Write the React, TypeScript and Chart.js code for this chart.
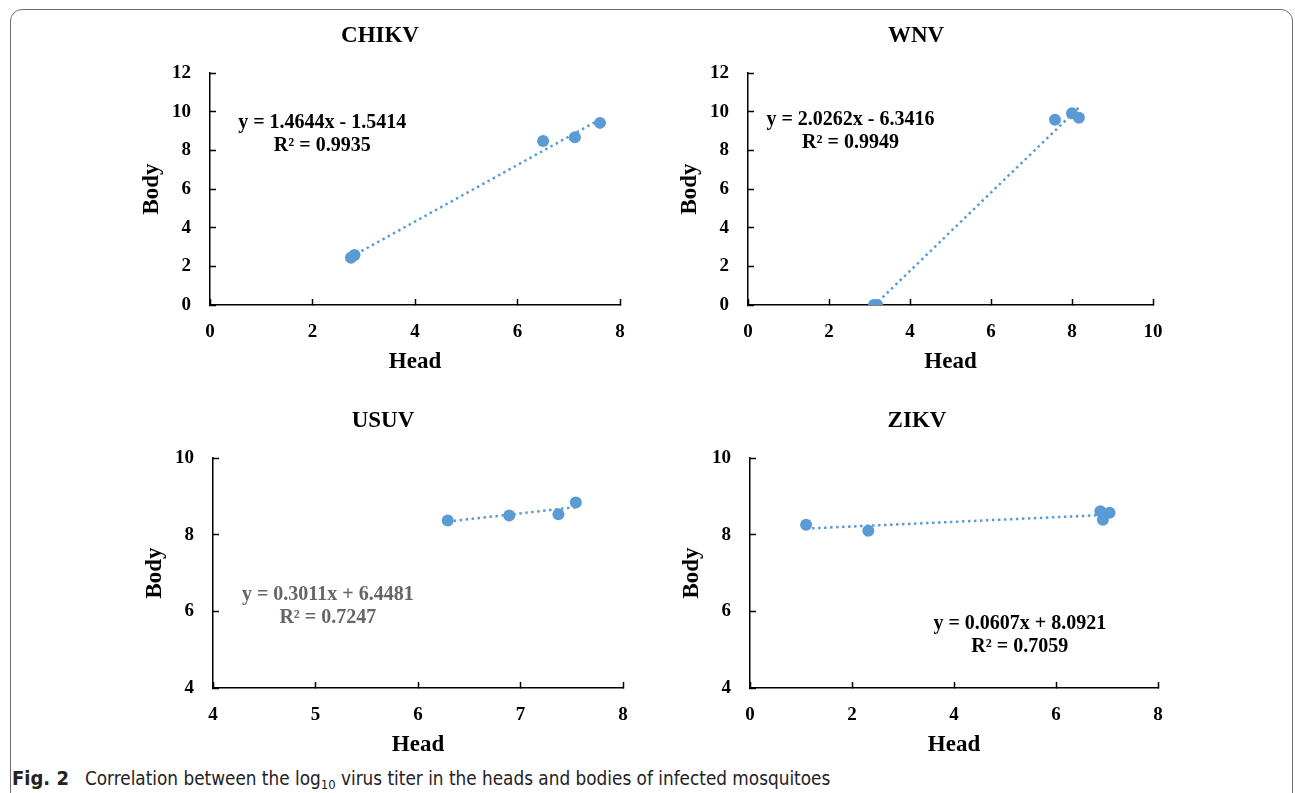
import React, { useEffect, useRef } from "react";
import { Chart, registerables } from "chart.js";

Chart.register(...registerables);

// ---- Data (log10 titers) ----
const chikvHead = [2.75, 2.82, 6.5, 7.12, 7.61];
const chikvBody = [2.45, 2.59, 8.48, 8.68, 9.42];
const chikvFit = [1.4644, -1.5414];
const chikvR2 = 0.9935;

const wnvHead = [3.11, 3.19, 7.58, 8.0, 8.17];
const wnvBody = [0, 0, 9.58, 9.92, 9.68];
const wnvFit = [2.0262, -6.3416];
const wnvR2 = 0.9949;

const usuvHead = [6.29, 6.89, 7.37, 7.54];
const usuvBody = [8.37, 8.5, 8.53, 8.84];
const usuvFit = [0.3011, 6.4481];
const usuvR2 = 0.7247;

const zikvHead = [1.1, 2.32, 6.87, 6.92, 7.05];
const zikvBody = [8.26, 8.1, 8.61, 8.39, 8.57];
const zikvFit = [0.0607, 8.0921];
const zikvR2 = 0.7059;

const xTitle = "Head";
const yTitle = "Body";

const BLUE = "#5B9BD5";
const SERIF = "'Liberation Serif', 'Times New Roman', serif";

type PanelSpec = {
  name: string;
  head: number[];
  body: number[];
  fit: number[];
  r2: number;
  area: { l: number; t: number; r: number; b: number };
  xRange: [number, number, number];
  yRange: [number, number, number];
  eqAt: [number, number];
  eqColor: string;
  rightPad: number;
};

const fmt = (v: number) => v.toFixed(4);
const eqText = (fit: number[]) =>
  `y = ${fmt(fit[0])}x ${fit[1] < 0 ? "-" : "+"} ${fmt(Math.abs(fit[1]))}`;

const panels: PanelSpec[] = [
  {
    name: "CHIKV", head: chikvHead, body: chikvBody, fit: chikvFit, r2: chikvR2,
    area: { l: 210, t: 73, r: 620, b: 305 }, xRange: [0, 8, 2], yRange: [0, 12, 2],
    eqAt: [2.19, 9.42], eqColor: "#000", rightPad: 10,
  },
  {
    name: "WNV", head: wnvHead, body: wnvBody, fit: wnvFit, r2: wnvR2,
    area: { l: 748, t: 73, r: 1153, b: 305 }, xRange: [0, 10, 2], yRange: [0, 12, 2],
    eqAt: [2.53, 9.57], eqColor: "#000", rightPad: 11,
  },
  {
    name: "USUV", head: usuvHead, body: usuvBody, fit: usuvFit, r2: usuvR2,
    area: { l: 213, t: 458, r: 623, b: 688 }, xRange: [4, 8, 1], yRange: [4, 10, 2],
    eqAt: [5.12, 6.43], eqColor: "#666666", rightPad: 10,
  },
  {
    name: "ZIKV", head: zikvHead, body: zikvBody, fit: zikvFit, r2: zikvR2,
    area: { l: 750, t: 458, r: 1158, b: 688 }, xRange: [0, 8, 2], yRange: [4, 10, 2],
    eqAt: [5.29, 5.68], eqColor: "#000", rightPad: 6,
  },
];

const YW = 80;
const TOPH = 58;
const XH = 75;

const equationPlugin = {
  id: "equation",
  afterDatasetsDraw(chart: any, _args: any, opts: any) {
    if (!opts || !opts.lines) return;
    const { ctx } = chart;
    const x = chart.scales.x.getPixelForValue(opts.at[0]);
    const y = chart.scales.y.getPixelForValue(opts.at[1]);
    ctx.save();
    ctx.font = `bold 20px ${SERIF}`;
    ctx.fillStyle = opts.color;
    ctx.textAlign = "center";
    ctx.textBaseline = "middle";
    opts.lines.forEach((ln: string, i: number) => ctx.fillText(ln, x, y + i * 23));
    ctx.restore();
  },
};

function Panel({ spec }: { spec: PanelSpec }) {
  const ref = useRef<HTMLCanvasElement>(null);
  const { l, t, r, b } = spec.area;
  const width = r - l + YW + spec.rightPad;
  const height = b - t + TOPH + XH;

  useEffect(() => {
    if (!ref.current) return;
    const pts = spec.head.map((h, i) => ({ x: h, y: spec.body[i] }));
    const xmin = Math.min(...spec.head);
    const xmax = Math.max(...spec.head);
    const trend = [xmin, xmax].map((x) => ({ x, y: spec.fit[0] * x + spec.fit[1] }));
    const tickFont = { family: SERIF, weight: "bold" as const, size: 19 };
    const titleFont = { family: SERIF, weight: "bold" as const, size: 23, lineHeight: 1.2 };
    const axisCommon = {
      grid: {
        display: true,
        drawOnChartArea: false,
        drawTicks: true,
        tickLength: -6,
        color: "#000",
        tickColor: "#000",
        tickWidth: 1.5,
      },
      border: { display: true, color: "#000", width: 1.5 },
    };
    const chart = new Chart(ref.current, {
      type: "scatter",
      data: {
        datasets: [
          {
            data: pts,
            backgroundColor: BLUE,
            borderColor: BLUE,
            pointRadius: 6,
            pointBorderWidth: 0,
            order: 1,
          } as any,
          {
            type: "line",
            data: trend,
            borderColor: BLUE,
            borderWidth: 2.5,
            borderDash: [2.5, 3.5],
            pointRadius: 0,
            fill: false,
            showLine: true,
            order: 2,
          } as any,
        ],
      },
      options: {
        responsive: false,
        animation: false,
        devicePixelRatio: 1,
        layout: { padding: 0 },
        plugins: {
          legend: { display: false },
          tooltip: { enabled: false },
          title: {
            display: true,
            text: spec.name,
            color: "#000",
            font: titleFont,
            padding: { top: 7.2, bottom: 23.2 },
          },
          equation: {
            at: spec.eqAt,
            color: spec.eqColor,
            lines: [eqText(spec.fit), `R² = ${spec.r2.toFixed(4)}`],
          },
        } as any,
        scales: {
          x: {
            type: "linear",
            position: "bottom",
            min: spec.xRange[0],
            max: spec.xRange[1],
            ticks: { stepSize: spec.xRange[2], color: "#000", font: tickFont, padding: 22, maxRotation: 0 },
            title: { display: true, text: xTitle, color: "#000", font: titleFont, padding: { top: 0, bottom: 4.2 } },
            afterFit: (s: any) => {
              s.height = XH;
              s.paddingLeft = 0;
              s.paddingRight = spec.rightPad;
            },
            ...axisCommon,
          },
          y: {
            type: "linear",
            position: "left",
            min: spec.yRange[0],
            max: spec.yRange[1],
            ticks: { stepSize: spec.yRange[2], color: "#000", font: tickFont, padding: 25 },
            title: { display: true, text: yTitle, color: "#000", font: titleFont, padding: { top: 8.2, bottom: 0 } },
            afterFit: (s: any) => {
              s.width = YW;
            },
            ...axisCommon,
          },
        } as any,
      },
      plugins: [equationPlugin],
    });
    return () => chart.destroy();
  }, []);

  return (
    <canvas
      ref={ref}
      width={width}
      height={height}
      style={{ position: "absolute", left: l - YW, top: t - TOPH, width, height }}
    />
  );
}

export default function App() {
  return (
    <div
      style={{
        position: "absolute",
        left: 0,
        top: 0,
        width: 1295,
        height: 793,
        overflow: "hidden",
        background: "#fff",
      }}
    >
      <div
        style={{
          position: "absolute",
          left: 10,
          top: 9,
          width: 1281,
          height: 820,
          border: "1.5px solid #6e6e6e",
          borderRadius: 12,
        }}
      />
      {panels.map((p) => (
        <Panel key={p.name} spec={p} />
      ))}
      <div
        style={{
          position: "absolute",
          left: 12,
          top: 766,
          whiteSpace: "nowrap",
          fontFamily: "'DejaVu Sans Condensed', 'Liberation Sans Narrow', 'Open Sans', sans-serif",
          fontStretch: "condensed",
          fontSize: 18.8,
          color: "#222",
          lineHeight: "24px",
        }}
      >
        <b style={{ fontSize: 20 }}>Fig. 2</b>
        <span style={{ marginLeft: 16 }}>
          Correlation between the log<sub style={{ fontSize: 13, verticalAlign: "-4px" }}>10</sub> virus titer in the
          heads and bodies of infected mosquitoes
        </span>
      </div>
    </div>
  );
}
